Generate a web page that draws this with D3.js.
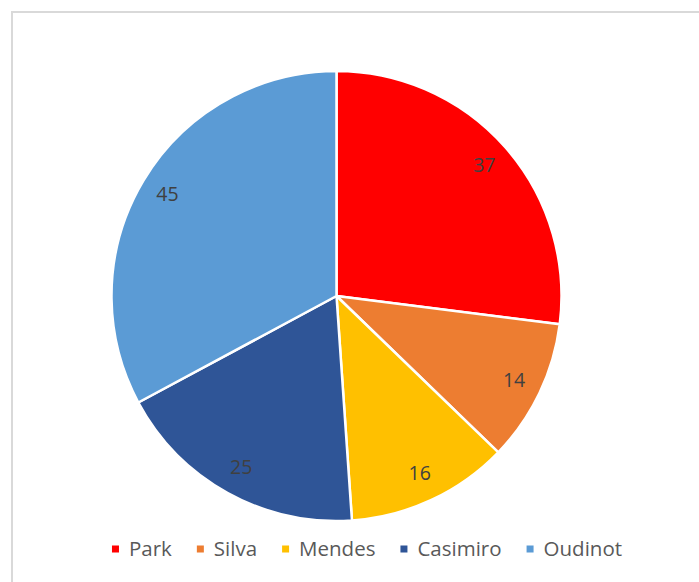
<!DOCTYPE html>
<html>
<head>
<meta charset="utf-8">
<script src="https://cdn.jsdelivr.net/npm/d3@7"></script>
<style>
  body { margin: 0; background: #fff; }
  svg { display: block; }
</style>
</head>
<body>
<div id="chart"></div>
<script>
// data
var names = [ 'Park', 'Silva', 'Mendes', 'Casimiro', 'Oudinot' ];
var values = [ 37, 14, 16, 25, 45 ];
var colors = [ '#ff0000', '#ed7d31', '#ffc000', '#2f5597', '#5b9bd5' ];

var width = 699,
  height = 582;

var cx = 336.5,
  cy = 296,
  radius = 225,
  labelRadius = 197;

var svg = d3.select( '#chart' )
  .append( 'svg' )
  .attr( 'width', width )
  .attr( 'height', height );

// chart frame, runs off the right and bottom edges
svg.append( 'rect' )
  .attr( 'x', 12 )
  .attr( 'y', 12 )
  .attr( 'width', width + 40 )
  .attr( 'height', height + 40 )
  .attr( 'fill', 'none' )
  .attr( 'stroke', '#d9d9d9' )
  .attr( 'stroke-width', 2 );

var color = d3.scaleOrdinal()
  .domain( names )
  .range( colors );

var pie = d3.pie()
  .sort( null )
  .value( function( d ) { return d.value; } );

var slices = pie( names.map( function( n, i ) {
  return { name: n, value: values[ i ] };
} ) );

var arc = d3.arc()
  .innerRadius( 0 )
  .outerRadius( radius );

var labelArc = d3.arc()
  .innerRadius( labelRadius )
  .outerRadius( labelRadius );

var g = svg.append( 'g' )
  .attr( 'transform', 'translate(' + cx + ',' + cy + ')' );

g.selectAll( '.slice' )
  .data( slices )
  .enter()
  .append( 'path' )
  .attr( 'class', 'slice' )
  .attr( 'd', arc )
  .attr( 'fill', function( d ) { return color( d.data.name ); } )
  .attr( 'stroke', '#ffffff' )
  .attr( 'stroke-width', 2.5 )
  .attr( 'stroke-linejoin', 'round' );

g.selectAll( '.value' )
  .data( slices )
  .enter()
  .append( 'text' )
  .attr( 'class', 'value' )
  .attr( 'transform', function( d ) {
    return 'translate(' + labelArc.centroid( d ) + ')';
  } )
  .attr( 'dy', '0.3em' )
  .attr( 'text-anchor', 'middle' )
  .attr( 'font-family', '"Open Sans", sans-serif' )
  .attr( 'font-size', '19.5px' )
  .attr( 'fill', '#404040' )
  .text( function( d ) { return d.data.value; } );

// legend
var legend = svg.append( 'g' );
var swatch = 7,
  swatchGap = 10,
  itemGap = 25,
  legendY = 549,
  legendCenter = 367;

var items = legend.selectAll( '.item' )
  .data( names )
  .enter()
  .append( 'g' )
  .attr( 'class', 'item' );

items.append( 'rect' )
  .attr( 'width', swatch )
  .attr( 'height', swatch )
  .attr( 'y', -swatch / 2 )
  .attr( 'fill', function( d ) { return color( d ); } );

items.append( 'text' )
  .attr( 'x', swatch + swatchGap )
  .attr( 'dy', '0.36em' )
  .attr( 'font-family', '"Open Sans", sans-serif' )
  .attr( 'font-size', '20.5px' )
  .attr( 'fill', '#595959' )
  .text( function( d ) { return d; } );

var offsets = [],
  run = 0;
items.each( function() {
  offsets.push( run );
  var w = d3.select( this ).select( 'text' ).node().getComputedTextLength();
  run += swatch + swatchGap + w + itemGap;
} );
var total = run - itemGap;
var startX = legendCenter - total / 2;

items.attr( 'transform', function( d, i ) {
  return 'translate(' + ( startX + offsets[ i ] ) + ',' + legendY + ')';
} );
</script>
</body>
</html>
